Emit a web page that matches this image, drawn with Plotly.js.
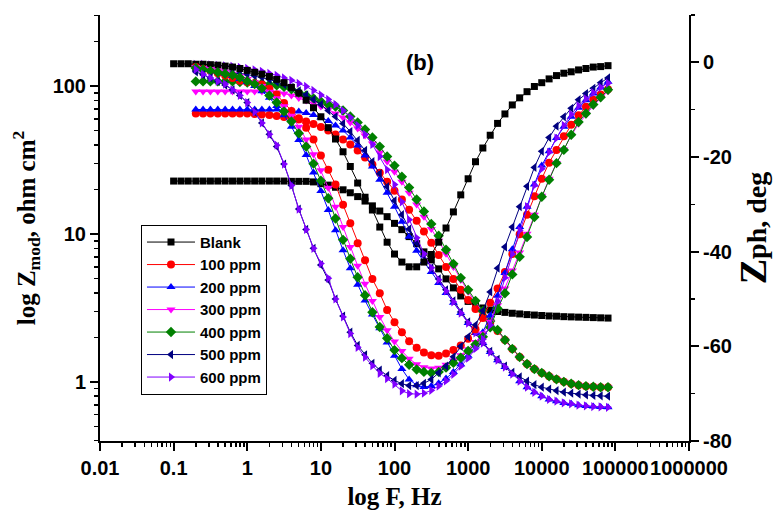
<!DOCTYPE html>
<html><head><meta charset="utf-8">
<script src="https://cdn.plot.ly/plotly-3.0.1.min.js"></script>
<style>html,body{margin:0;padding:0;background:#fff}#chart{width:776px;height:510px}</style>
</head><body><div id="chart"></div>
<script>
// Frequencies (Hz)
const freqBlank = [0.1,0.126,0.158,0.2,0.251,0.316,0.398,0.501,0.631,0.794,
  1,1.26,1.58,2,2.51,3.16,3.98,5.01,6.31,7.94,
  10,12.6,15.8,20,25.1,31.6,39.8,50.1,63.1,79.4,
  100,126,158,200,251,316,398,501,631,794,
  1000,1259,1585,1995,2512,3162,3981,5012,6310,7943,
  10000,12589,15849,19953,25119,31623,39811,50119,63096,79433];
const freqInh = [0.2,0.251,0.316,0.398,0.501,0.631,0.794,
  1,1.26,1.58,2,2.51,3.16,3.98,5.01,6.31,7.94,
  10,12.6,15.8,20,25.1,31.6,39.8,50.1,63.1,79.4,
  100,126,158,200,251,316,398,501,631,794,
  1000,1259,1585,1995,2512,3162,3981,5012,6310,7943,
  10000,12589,15849,19953,25119,31623,39811,50119,63096,79433];

// |Z| (ohm cm2)
const zBlank = [22.8,22.8,22.8,22.8,22.8,22.8,22.8,22.8,22.8,22.8,
  22.8,22.8,22.8,22.8,22.8,22.8,22.7,22.7,22.7,22.5,
  21.9,21.4,20.7,19.9,19.0,17.9,16.7,15.5,14.3,13.1,
  11.8,10.7,9.6,8.6,7.57,6.68,5.81,4.97,4.32,3.81,
  3.50,3.29,3.16,3.06,2.99,2.95,2.91,2.88,2.85,2.83,
  2.81,2.79,2.78,2.76,2.75,2.74,2.73,2.72,2.71,2.70];
const z100 = [65.3,65.3,65.3,65.3,65.3,65.3,65.3,65.3,64.8,64.3,
  63.8,62.8,61.8,60.9,59.5,57.6,55.4,52.9,50.1,47.1,
  43.5,40.3,36.7,32.9,29.5,26.0,22.6,19.6,17.1,14.6,
  12.3,10.4,8.72,7.22,5.99,4.97,4.19,3.58,3.11,2.79,
  2.50,2.21,1.92,1.67,1.47,1.32,1.22,1.15,1.09,1.04,
  1.00,0.97,0.95,0.935,0.927,0.92,0.92];
const z200 = [69.5,69.5,69.5,69.5,69.5,69.5,69.5,69.5,69.5,69.5,
  69.5,69.5,69.0,68.4,67.4,65.8,63.8,61.4,58.1,54.2,
  50.1,44.9,39.6,33.9,28.6,23.3,19.0,15.3,12.1,9.57,
  7.69,6.48,5.54,4.67,3.99,3.43,2.92,2.50,2.14,1.83,
  1.59,1.40,1.26,1.13,1.01,0.92,0.85,0.80,0.76,0.74,
  0.72,0.71,0.695,0.687,0.681,0.677,0.673];
const z300 = [92.0,92.0,92.0,92.0,92.0,92.0,92.0,92.0,92.0,92.0,
  91.4,90.7,89.3,86.5,83.2,80.0,76.3,72.8,69.5,65.3,
  61.4,56.8,51.7,46.4,40.9,35.6,30.9,26.4,22.6,19.0,
  15.8,13.1,10.8,9.0,7.34,5.99,4.89,4.06,3.47,2.97,
  2.56,2.22,1.92,1.67,1.47,1.32,1.22,1.15,1.09,1.04,
  1.00,0.97,0.95,0.935,0.927,0.92,0.92];
const z400 = [107.6,107.6,107.6,107.6,107.6,107.6,106.7,105.9,105.1,104.3,
  102.7,101.1,98.8,95.1,90.6,86.5,82.6,78.8,75.2,72.8,
  68.4,62.3,56.8,50.9,44.9,39.0,33.4,29.0,24.4,20.6,
  17.1,14.2,11.7,9.72,7.82,6.28,5.05,4.19,3.53,3.02,
  2.58,2.24,1.92,1.67,1.47,1.32,1.22,1.15,1.09,1.04,
  1.00,0.97,0.95,0.935,0.927,0.92,0.92];
const z500 = [127.8,127.8,126.8,125.9,124.8,123.9,121.9,120.0,117.2,114.6,
  110.9,106.7,102.7,98.0,92.7,87.2,81.3,75.2,68.4,62.3,
  55.8,49.3,42.9,36.7,30.9,25.6,20.9,16.8,13.5,10.8,
  8.72,7.11,5.90,4.97,4.19,3.53,2.97,2.54,2.17,1.86,
  1.61,1.42,1.28,1.16,1.08,1.01,0.957,0.92,0.893,0.871,
  0.851,0.838,0.826,0.815,0.809,0.804,0.80];
const z600 = [140.3,140.3,139.3,138.1,137.1,136.1,134.0,131.8,128.8,125.9,
  121.9,118.3,113.7,109.4,104.3,99.5,93.5,87.2,81.3,75.2,
  68.4,61.4,54.2,47.1,40.3,33.4,27.2,21.6,16.5,12.5,
  9.42,7.34,5.90,4.90,4.12,3.47,2.92,2.50,2.14,1.83,
  1.59,1.40,1.26,1.13,1.01,0.92,0.85,0.80,0.76,0.74,
  0.72,0.71,0.695,0.687,0.681,0.677,0.673];

// Phase angle (deg)
const phBlank = [-0.3,-0.3,-0.3,-0.4,-0.4,-0.5,-0.6,-0.8,-1.0,-1.3,
  -1.7,-2.1,-2.5,-3.0,-3.6,-4.3,-5.3,-6.5,-8.0,-9.6,
  -11.5,-13.8,-16.2,-18.9,-22.0,-25.5,-28.5,-31.2,-34.8,-38.0,
  -40.5,-42.2,-43.2,-43.2,-42.2,-40.6,-38.0,-35.0,-31.6,-28.0,
  -24.6,-21.0,-18.1,-15.4,-12.9,-10.9,-9.0,-7.5,-6.2,-5.1,
  -4.3,-3.5,-2.8,-2.3,-2.0,-1.6,-1.3,-1.0,-0.9,-0.7];
const ph100 = [-1.0,-1.4,-1.8,-2.3,-2.8,-3.3,-3.9,-4.2,-4.4,-4.7,
  -5.6,-6.8,-8.6,-10.3,-11.8,-13.8,-16.3,-19.7,-22.7,-25.8,
  -30.1,-34.0,-38.2,-41.8,-45.8,-48.8,-52.3,-54.9,-57.0,-58.9,
  -60.3,-61.3,-61.9,-62.0,-61.5,-60.8,-59.8,-58.4,-56.4,-54.0,
  -50.8,-47.8,-44.3,-40.5,-36.3,-32.2,-28.3,-24.6,-21.2,-18.5,
  -15.6,-13.2,-11.2,-9.4,-7.9,-6.8,-5.7];
const ph200 = [-1.0,-1.3,-1.6,-2.0,-2.4,-2.9,-3.5,-4.2,-5.0,-6.1,
  -7.5,-9.2,-11.2,-13.6,-16.4,-19.6,-23.3,-27.2,-31.2,-35.5,
  -39.7,-43.5,-47.0,-50.3,-53.3,-56.2,-59.2,-62.0,-64.8,-67.0,
  -68.2,-68.6,-68.4,-67.8,-66.8,-65.4,-63.8,-62.0,-59.8,-57.0,
  -53.5,-49.3,-44.5,-39.5,-34.8,-30.5,-25.8,-21.8,-18.8,-16.0,
  -13.6,-11.5,-9.6,-8.0,-6.6,-5.3,-4.1];
const ph300 = [-1.0,-1.2,-1.4,-1.7,-2.0,-2.4,-2.9,-3.5,-4.2,-5.0,
  -6.2,-7.6,-9.3,-11.3,-13.6,-16.3,-19.4,-22.8,-26.5,-30.5,
  -34.8,-39.0,-43.0,-46.8,-50.4,-53.8,-56.6,-59.0,-61.0,-62.6,
  -63.8,-64.4,-64.7,-64.5,-63.9,-63.0,-61.9,-60.6,-59.1,-57.3,
  -54.8,-51.3,-47.8,-44.0,-40.2,-36.2,-32.2,-28.2,-24.6,-21.3,
  -18.4,-15.5,-13.0,-11.0,-9.2,-7.6,-6.1];
const ph400 = [-1.2,-1.5,-1.8,-2.1,-2.4,-2.7,-3.2,-4.0,-4.6,-5.5,
  -7.0,-8.5,-10.4,-12.5,-15.0,-17.8,-21.4,-25.0,-28.7,-33.0,
  -37.5,-41.5,-45.4,-49.2,-52.8,-55.9,-58.3,-60.8,-62.5,-63.9,
  -64.9,-65.4,-65.6,-65.4,-64.5,-63.5,-62.4,-61.0,-59.6,-58.0,
  -56.0,-52.0,-48.8,-44.8,-41.1,-36.9,-32.7,-28.4,-24.8,-21.3,
  -18.5,-15.3,-12.6,-10.8,-8.9,-7.4,-5.8];
const ph500 = [-2.0,-2.6,-3.3,-4.0,-4.8,-5.8,-7.0,-8.5,-10.5,-12.8,
  -15.2,-17.8,-21.5,-26.0,-31.0,-35.3,-39.3,-42.8,-46.0,-50.0,
  -53.6,-57.0,-59.8,-61.8,-63.6,-65.0,-66.2,-67.2,-67.9,-68.3,
  -68.3,-67.8,-67.0,-65.6,-64.2,-62.2,-60.0,-58.0,-55.5,-52.5,
  -48.5,-43.5,-39.0,-34.8,-30.5,-26.2,-22.2,-18.8,-15.9,-13.5,
  -11.5,-9.7,-7.9,-6.6,-5.5,-4.3,-3.3];
const ph600 = [-1.5,-2.5,-3.3,-4.0,-4.6,-5.8,-7.0,-8.5,-10.5,-12.8,
  -15.2,-17.5,-21.5,-26.0,-31.0,-35.3,-39.3,-42.5,-45.6,-50.0,
  -53.8,-57.3,-60.2,-62.3,-64.1,-65.7,-66.8,-68.0,-69.4,-70.0,
  -70.1,-69.9,-69.3,-68.4,-67.3,-65.9,-64.2,-62.5,-60.5,-58.5,
  -55.5,-50.5,-45.5,-40.5,-35.5,-30.5,-26.0,-22.5,-19.0,-16.0,
  -13.3,-11.0,-9.2,-7.7,-6.4,-5.3,-4.4];

const seriesNames = ['Blank','100 ppm','200 ppm','300 ppm','400 ppm','500 ppm','600 ppm'];

// Tick labels
const xTickVals = [0.01,0.1,1,10,100,1000,10000,100000,1000000];
const xTickText = ['0.01','0.1','1','10','100','1000','10000','100000','1000000'];
const yTickVals = [1,10,100];
const yTickText = ['1','10','100'];
const y2TickVals = [-80,-60,-40,-20,0];
const y2TickText = ['-80','-60','-40','-20','0'];

// Styles
const styles = [
  {color:'#000000', symbol:'square', size:7},
  {color:'#ff0000', symbol:'circle', size:8},
  {color:'#0000ff', symbol:'triangle-up', size:8},
  {color:'#ff00ff', symbol:'triangle-down', size:8},
  {color:'#008000', symbol:'diamond', size:8},
  {color:'#000080', symbol:'triangle-left', size:8},
  {color:'#8000ff', symbol:'triangle-right', size:8}
];
const freqs = [freqBlank,freqInh,freqInh,freqInh,freqInh,freqInh,freqInh];
const mags = [zBlank,z100,z200,z300,z400,z500,z600];
const phases = [phBlank,ph100,ph200,ph300,ph400,ph500,ph600];

const traces = [];
for (let i = 0; i < seriesNames.length; i++) {
  const st = styles[i];
  traces.push({
    x: freqs[i], y: mags[i], yaxis: 'y', type: 'scatter', mode: 'lines+markers',
    name: seriesNames[i],
    line: {color: st.color, width: 1},
    marker: {symbol: st.symbol, size: st.size, color: st.color}
  });
}
for (let i = 0; i < seriesNames.length; i++) {
  const st = styles[i];
  traces.push({
    x: freqs[i], y: phases[i], yaxis: 'y2', type: 'scatter', mode: 'lines+markers',
    name: seriesNames[i], showlegend: false,
    line: {color: st.color, width: 1},
    marker: {symbol: st.symbol, size: st.size, color: st.color}
  });
}

// minor tick positions
const minorLog = (lo, hi) => { const v = []; for (let e = lo; e <= hi; e++) for (let d = 2; d <= 9; d++) v.push(d * Math.pow(10, e)); return v; };

const tickFont = {family: 'Arial, "Liberation Sans", sans-serif', size: 20, color: '#000', weight: 'bold'};
const titleFont = {family: '"Times New Roman", "Liberation Serif", serif', size: 25, color: '#000', weight: 'bold'};

const layout = {
  width: 776, height: 510,
  margin: {l: 100, r: 87, t: 15, b: 69},
  paper_bgcolor: '#fff', plot_bgcolor: '#fff',
  hovermode: false,
  showlegend: true,
  xaxis: {
    type: 'log', range: [-2, 6],
    tickmode: 'array', tickvals: xTickVals, ticktext: xTickText, tickangle: 0,
    ticks: 'outside', ticklen: 8, tickwidth: 2, tickcolor: '#000',
    minor: {tickmode: 'array', tickvals: minorLog(-2, 5), ticks: 'outside', ticklen: 4, tickwidth: 1.5, tickcolor: '#000', showgrid: false},
    showline: true, linecolor: '#000', linewidth: 2, showgrid: false, zeroline: false,
    tickfont: tickFont,
    title: {text: 'log F, Hz', font: titleFont, standoff: 12}
  },
  yaxis: {
    type: 'log', range: [-0.4, 2.481],
    tickmode: 'array', tickvals: yTickVals, ticktext: yTickText,
    ticks: 'outside', ticklen: 8, tickwidth: 2, tickcolor: '#000',
    minor: {tickmode: 'array', tickvals: minorLog(-1, 2).filter(v => v >= 0.39 && v <= 305), ticks: 'outside', ticklen: 4, tickwidth: 1.5, tickcolor: '#000', showgrid: false},
    showline: true, linecolor: '#000', linewidth: 2, showgrid: false, zeroline: false,
    tickfont: tickFont,
    title: {text: 'log Z<sub>mod</sub>, ohm cm<sup>2</sup>', font: titleFont, standoff: 10}
  },
  yaxis2: {
    overlaying: 'y', side: 'right', anchor: 'x', range: [-80, 10],
    tickmode: 'array', tickvals: y2TickVals, ticktext: y2TickText,
    ticks: 'outside', ticklen: 8, tickwidth: 2, tickcolor: '#000',
    minor: {tickmode: 'array', tickvals: [-70,-50,-30,-10,10], ticks: 'outside', ticklen: 4, tickwidth: 1.5, tickcolor: '#000', showgrid: false},
    showline: true, linecolor: '#000', linewidth: 2, showgrid: false, zeroline: false,
    tickfont: tickFont,
    title: {text: '<span style="font-size:38px">Z</span>ph, deg', font: {family: titleFont.family, size: 28, color: '#000', weight: 'bold'}, standoff: 8}
  },
  legend: {
    x: 0.0696, y: 0.5075, xanchor: 'left', yanchor: 'top',
    bgcolor: '#fff', bordercolor: '#000', borderwidth: 1,
    tracegroupgap: 0, itemwidth: 48,
    font: {family: 'Arial, "Liberation Sans", sans-serif', size: 15, color: '#000', weight: 'bold'}
  },
  annotations: [{
    text: '(b)', xref: 'paper', yref: 'paper', x: 0.544, y: 0.889, showarrow: false,
    xanchor: 'center', yanchor: 'middle',
    font: {family: 'Arial, "Liberation Sans", sans-serif', size: 22, color: '#000', weight: 'bold'}
  }]
};

Plotly.newPlot('chart', traces, layout, {displayModeBar: false, staticPlot: true});
</script></body></html>
